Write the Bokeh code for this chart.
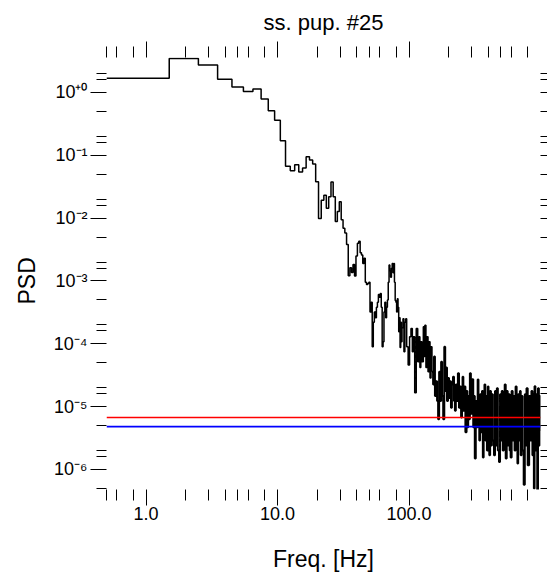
from bokeh.plotting import figure
from bokeh.models import LogAxis, FixedTicker, Range1d, Span, CustomJSTickFormatter, Title
from bokeh.embed import file_html
from bokeh.resources import INLINE

TITLE = "ss. pup. #25"
X_LABEL = "Freq. [Hz]"
Y_LABEL = "PSD"

x_major_ticks = [1.0, 10.0, 100.0]
x_tick_labels = ["1.0", "10.0", "100.0"]
x_minor_ticks = [0.5, 0.6, 0.8, 2.0, 3.0, 4.0, 5.0, 6.0, 8.0,
                 20.0, 30.0, 40.0, 50.0, 60.0, 80.0,
                 200.0, 300.0, 400.0, 500.0, 600.0, 800.0]

y_major_ticks = [1e0, 1e-1, 1e-2, 1e-3, 1e-4, 1e-5, 1e-6]
y_tick_labels = ["10\u207a\u2070", "10\u207b\u00b9", "10\u207b\u00b2", "10\u207b\u00b3",
                 "10\u207b\u2074", "10\u207b\u2075", "10\u207b\u2076"]
y_minor_ticks = [2.0, 1.6, 0.5, 0.2, 0.16, 0.05, 0.02, 0.016, 0.005,
                 0.002, 0.0016, 5e-4, 2e-4, 1.6e-4, 5e-5, 2e-5, 1.6e-5,
                 5e-6, 2e-6, 1.6e-6, 5e-7]

x_limits = [0.5, 1000.5]
y_limits = [4.8e-7, 3.6]

# PSD spectrum (bin centres in Hz)
freq_hz = [
    1, 2, 3, 4, 5, 6, 7, 8, 9, 10,
    11, 12, 13, 14, 15, 16, 17, 18, 19, 20,
    21, 22, 23, 24, 25, 26, 27, 28, 29, 30,
    31, 32, 33, 34, 35, 36, 37, 38, 39, 40,
    41, 42, 43, 44, 45, 46, 47, 48, 49, 50,
    51, 52, 53, 54, 55, 56, 57, 58, 59, 60,
    61, 62, 63, 64, 65, 66, 67, 68, 69, 70,
    71, 72, 73, 74, 75, 76, 77, 78, 79, 80,
    81, 82, 83, 84, 85, 86, 87, 88, 89, 91,
    92, 94, 95, 97, 100, 102, 105, 107, 109, 112,
    115, 118, 120, 122, 124, 127, 130, 131, 133, 136,
    138, 141, 143, 146, 148, 151, 154, 156, 159, 162,
    165, 168, 171, 174, 177, 180, 184, 187, 190, 193,
    196, 200, 203, 207, 210, 214, 218, 222, 225, 229,
    233, 238, 242, 246, 252, 254, 257, 261, 265, 272,
    276, 280, 284, 288, 293, 298, 306, 310, 314, 319,
    325, 331, 335, 340, 345, 350, 356, 362, 367, 372,
    378, 383, 388, 395, 400, 405, 411, 417, 423, 431,
    438, 448, 454, 462, 470, 478, 489, 496, 503, 512,
    521, 530, 539, 549, 558, 568, 578, 588, 598, 609,
    620, 630, 641, 653, 664, 672, 681, 693, 703, 712,
    724, 737, 754, 766, 776, 790, 809, 831, 846, 861,
    876, 886, 896, 907, 923, 939, 951, 964, 981, 993,
    1000,
]

psd = [
    1.68, 3.47, 2.73, 1.62, 1.22, 1.04, 1.13, 0.79, 0.51, 0.36,
    0.17, 0.067, 0.057, 0.071, 0.054, 0.063, 0.095, 0.084, 0.073, 0.038,
    0.0099, 0.0193, 0.0232, 0.0143, 0.0219, 0.0376, 0.0219, 0.00885, 0.0127, 0.0182,
    0.0094, 0.0069, 0.0058, 0.0038, 0.00121, 0.00163, 0.00136, 0.00183, 0.0012, 0.0025,
    4.0e-3, 4.3e-3, 2.8e-3, 2.6e-3, 1.9e-3, 2.3e-3, 9.5e-4, 8.8e-4, 9.1e-4, 9.5e-4,
    3.2e-4, 4.6e-4, 9.0e-5, 2.2e-4, 3.2e-4, 2.6e-4, 3.8e-4, 4.6e-4, 6.1e-4, 5.5e-4,
    6.3e-4, 3.8e-4, 9.0e-5, 1.08e-4, 3.2e-4, 4.6e-4, 2.6e-4, 3.8e-4, 5.0e-4, 9.5e-4,
    1.8e-3, 1.45e-3, 1.15e-3, 1.6e-3, 1.9e-3, 1.35e-3, 1.9e-3, 9.5e-4, 4.9e-4, 4.6e-4,
    3.2e-4, 5.2e-4, 3.8e-4, 1.55e-4, 2.6e-4, 8.7e-5, 2.2e-4, 1.08e-4, 1.8e-4, 2.5e-4,
    7.5e-5, 2.2e-4, 2.5e-4, 9.0e-5, 4.6e-5, 1.3e-4, 1.75e-4, 7.5e-5, 1.3e-4, 1.66e-5,
    1.75e-4, 5.2e-5, 1.3e-4, 4.2e-5, 1.08e-4, 5.2e-5, 1.86e-4, 6.3e-5, 1.98e-4, 4.2e-5,
    1.3e-4, 3.6e-5, 1.08e-4, 2.86e-5, 9.0e-5, 3.6e-5, 2.25e-5, 6.3e-5, 1.47e-5, 2.54e-5,
    1.23e-5, 6.3e-6, 3.6e-5, 1.23e-5, 5.2e-5, 1.47e-5, 6.3e-6, 9.0e-5, 1.77e-5, 4.2e-5,
    1.23e-5, 2.86e-5, 1.37e-5, 2.54e-5, 9.6e-6, 2.25e-5, 3.0e-5, 1.23e-5, 8.6e-6, 2.25e-5,
    1.23e-5, 3.4e-5, 9.6e-6, 2.1e-5, 6.7e-6, 1.77e-5, 3.0e-5, 8.6e-6, 2.1e-5, 3.9e-6,
    1.77e-5, 4.7e-6, 1.47e-5, 6.3e-6, 3.4e-5, 7.7e-6, 2.72e-5, 4.7e-6, 1.47e-5, 1.49e-6,
    1.23e-5, 4.7e-6, 2.7e-5, 6.3e-6, 2.89e-6, 1.58e-5, 3.9e-6, 1.77e-5, 1.55e-6, 1.58e-5,
    2.25e-5, 2.89e-6, 1.47e-5, 2.0e-6, 2.1e-5, 3.46e-6, 1.68e-6, 1.77e-5, 2.41e-6, 1.58e-5,
    2.89e-6, 1.68e-6, 1.77e-5, 2.41e-6, 1.97e-5, 2.0e-6, 1.32e-6, 1.58e-5, 2.89e-6, 1.77e-5,
    2.0e-6, 1.47e-5, 2.25e-5, 1.49e-6, 1.77e-5, 2.41e-6, 1.58e-5, 2.0e-6, 1.55e-6, 1.77e-5,
    2.89e-6, 1.47e-5, 2.0e-6, 2.1e-5, 2.41e-6, 1.24e-6, 1.58e-5, 2.89e-6, 1.77e-5, 1.68e-6,
    1.47e-5, 2.0e-6, 5.7e-7, 1.58e-5, 2.41e-6, 1.97e-5, 1.17e-6, 1.47e-5, 2.89e-6, 1.77e-5,
    1.68e-6, 1.6e-5, 5.0e-7, 2.11e-5, 2.0e-6, 1.58e-5, 4.7e-7, 1.97e-5, 2.41e-6, 1.47e-5,
    4.1e-6,
]

noise_level_red = 6.7e-6
noise_level_blue = 4.8e-6

assert len(freq_hz) == len(psd)

FONT = "Liberation Sans"
W, H = 547, 576
DENSE_FROM_HZ = 150  # above this the 1 Hz bins are far narrower than a pixel

p = figure(width=W, height=H, x_axis_type="log", y_axis_type="log",
           x_range=Range1d(*x_limits), y_range=Range1d(*y_limits),
           output_backend="svg", toolbar_location=None,
           min_border_left=101, min_border_right=7,
           min_border_top=52, min_border_bottom=87)
p.outline_line_color = None
p.grid.visible = False
p.background_fill_color = "white"
p.border_fill_color = "white"

# title
p.title.text = TITLE
p.title.align = "center"
p.title.text_font = FONT
p.title.text_font_size = "22px"
p.title.text_font_style = "normal"
p.title.text_color = "black"
p.title.standoff = 14

x_ticker = FixedTicker(ticks=x_major_ticks, minor_ticks=x_minor_ticks)
y_ticker = FixedTicker(ticks=y_major_ticks, minor_ticks=y_minor_ticks)


def style(ax, major_out, minor_out):
    ax.axis_line_color = None
    ax.major_tick_in = 0
    ax.minor_tick_in = 0
    ax.major_tick_out = major_out
    ax.minor_tick_out = minor_out
    ax.major_tick_line_color = "black"
    ax.minor_tick_line_color = "black"
    ax.major_tick_line_width = 1
    ax.minor_tick_line_width = 1
    ax.major_label_text_font = FONT
    ax.major_label_text_font_size = "18px"
    ax.major_label_text_color = "black"


def blank(ax):
    ax.formatter = CustomJSTickFormatter(code="return ''")
    ax.major_label_text_font_size = "0px"
    ax.major_label_standoff = 0


bottom = p.below[0]
bottom.ticker = x_ticker
style(bottom, 16, 11)
bottom.major_label_standoff = 1
bottom.major_label_overrides = {t: s for t, s in zip(x_major_ticks, x_tick_labels)}
bottom.axis_label = X_LABEL
bottom.axis_label_text_font = FONT
bottom.axis_label_text_font_size = "23px"
bottom.axis_label_text_font_style = "normal"
bottom.axis_label_text_color = "black"
bottom.axis_label_standoff = 23

left = p.left[0]
left.ticker = y_ticker
style(left, 16, 10)
left.major_label_standoff = 3
left.major_label_overrides = {t: s for t, s in zip(y_major_ticks, y_tick_labels)}

top = LogAxis(ticker=x_ticker)
style(top, 16, 11)
blank(top)
p.add_layout(top, "above")

right = LogAxis(ticker=y_ticker)
style(right, 7, 7)
blank(right)
p.add_layout(right, "right")

# y-axis title, placed slightly below the frame centre as in the reference
p.add_layout(Title(text=Y_LABEL, align="left", offset=185, standoff=22,
                   text_font=FONT, text_font_size="23px", text_font_style="normal",
                   text_color="black"), "left")

# histogram-style step curve (bin edges halfway between bin centres)
edges = [freq_hz[0] - 0.5] + [(a + b) / 2.0 for a, b in zip(freq_hz[:-1], freq_hz[1:])] + [freq_hz[-1] + 0.5]
xs = edges
ys = psd + [psd[-1]]
k = next(i for i, f in enumerate(freq_hz) if f >= DENSE_FROM_HZ)
p.step(x=xs[:k + 1], y=ys[:k + 1], mode="after", line_color="black", line_width=1.5)
p.step(x=xs[k:], y=ys[k:], mode="after", line_color="black", line_width=2.0)

p.add_layout(Span(location=noise_level_red, dimension="width", line_color="#ff0000", line_width=1.6))
p.add_layout(Span(location=noise_level_blue, dimension="width", line_color="#0000ff", line_width=1.6))

open("out.html", "w").write(file_html(p, INLINE))
